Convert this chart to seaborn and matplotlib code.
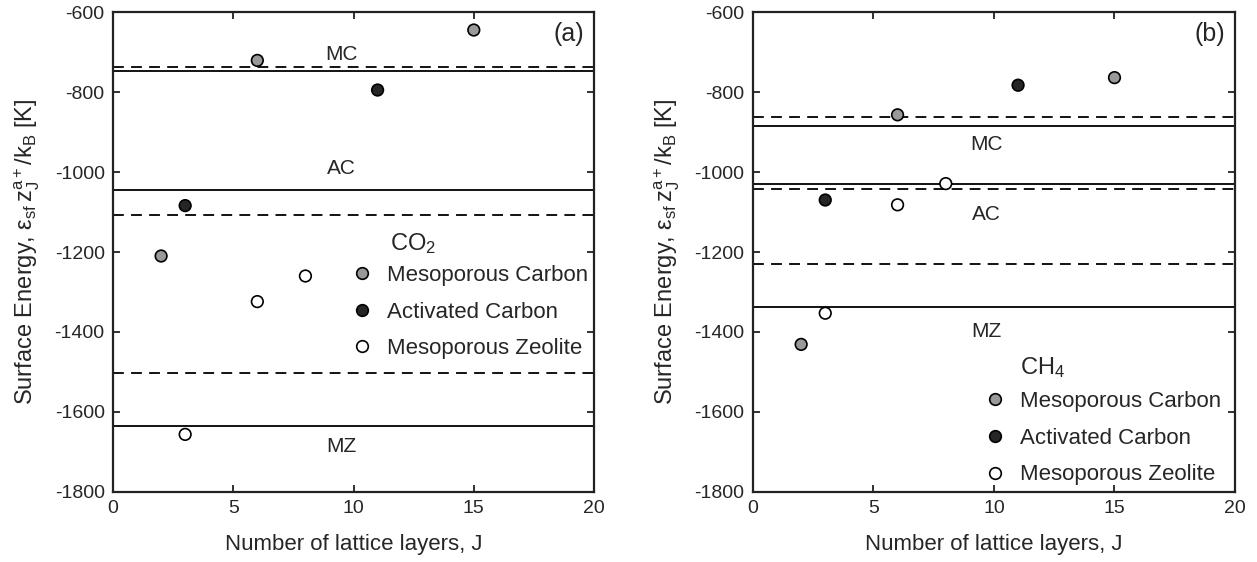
import numpy as np
import pandas as pd
import matplotlib
matplotlib.use("Agg")
import matplotlib.pyplot as plt
import seaborn as sns

# ---- data: surface energy vs number of lattice layers ----
materials = ["Mesoporous Carbon", "Activated Carbon", "Mesoporous Zeolite"]
short = ["MC", "AC", "MZ"]

# (a) CO2
co2_mc_J = [2, 6, 15]
co2_mc_E = [-1210, -721, -645]
co2_ac_J = [3, 11]
co2_ac_E = [-1084, -795]
co2_mz_J = [3, 6, 8]
co2_mz_E = [-1656, -1324, -1260]
co2_solid = [-748, -1045, -1634]    # MC, AC, MZ
co2_dashed = [-737, -1107, -1502]   # MC, AC, MZ

# (b) CH4
ch4_mc_J = [2, 6, 15]
ch4_mc_E = [-1431, -857, -764]
ch4_ac_J = [3, 11]
ch4_ac_E = [-1070, -783]
ch4_mz_J = [3, 6, 8]
ch4_mz_E = [-1353, -1082, -1029]
ch4_solid = [-884, -1029, -1337]
ch4_dashed = [-862, -1042, -1230]

x_ticks = [0, 5, 10, 15, 20]
y_ticks = [-1800, -1600, -1400, -1200, -1000, -800, -600]

sns.set_theme(style="ticks")
plt.rcParams["font.family"] = ["Liberation Sans", "DejaVu Sans"]
plt.rcParams["mathtext.fontset"] = "custom"
plt.rcParams["mathtext.rm"] = "Liberation Sans"
plt.rcParams["mathtext.it"] = "Liberation Sans"
plt.rcParams["mathtext.sf"] = "Liberation Sans"
plt.rcParams["axes.unicode_minus"] = False

palette = {materials[0]: "#999999", materials[1]: "#262626", materials[2]: "#ffffff"}


def frame(J_lists, E_lists):
    rows = []
    for m, Js, Es in zip(materials, J_lists, E_lists):
        for j, e in zip(Js, Es):
            rows.append({"J": j, "E": e, "material": m})
    return pd.DataFrame(rows)


df_a = frame([co2_mc_J, co2_ac_J, co2_mz_J], [co2_mc_E, co2_ac_E, co2_mz_E])
df_b = frame([ch4_mc_J, ch4_ac_J, ch4_mz_J], [ch4_mc_E, ch4_ac_E, ch4_mz_E])

fig = plt.figure(figsize=(12.57, 5.62), dpi=100)
ax_a = fig.add_axes([0.0899, 0.1246, 0.3827, 0.8540])
ax_b = fig.add_axes([0.5990, 0.1246, 0.3835, 0.8540])

panels = [
    (ax_a, df_a, co2_solid, co2_dashed, "(a)", "CO$_2$",
     [(9.5, -707), (9.5, -992), (9.5, -1687)], (11.5, -1180), (0.467, 0.496)),
    (ax_b, df_b, ch4_solid, ch4_dashed, "(b)", "CH$_4$",
     [(9.7, -932), (9.7, -1105), (9.7, -1400)], (11.08, -1488), (0.451, 0.233)),
]

for ax, df, solid, dashed, tag, gas, lab_pos, gas_pos, leg_anchor in panels:
    for y in solid:
        ax.axhline(y, color="black", lw=1.3, ls="-", zorder=1)
    for y in dashed:
        ax.axhline(y, color="black", lw=1.3, ls=(0, (6, 4)), zorder=1)

    sns.scatterplot(data=df, x="J", y="E", hue="material", hue_order=materials,
                    palette=palette, edgecolor="black", linewidth=1.2, s=70,
                    ax=ax, zorder=3, legend=True)

    for name, (x, y) in zip(short, lab_pos):
        ax.text(x, y, name, ha="center", va="center", fontsize=15)
    ax.text(gas_pos[0], gas_pos[1], gas, ha="left", va="center", fontsize=17)
    ax.text(0.98, 0.955, tag, transform=ax.transAxes, ha="right", va="center",
            fontsize=18)

    handles, labels = ax.get_legend_handles_labels()
    ax.legend(handles, labels, frameon=False, loc="upper left",
              bbox_to_anchor=leg_anchor, fontsize=16, labelspacing=0.7,
              handletextpad=0.53, borderpad=0, handlelength=1.2,
              markerscale=1.0)

    ax.set_xlim(0, 20)
    ax.set_ylim(-1800, -600)
    ax.set_xticks(x_ticks)
    ax.set_yticks(y_ticks)
    ax.tick_params(direction="in", length=5, width=1.3, top=True, right=True,
                   labelsize=14, pad=6, color="#222222")
    for sp in ax.spines.values():
        sp.set_linewidth(1.6)
        sp.set_color("#222222")
    ax.set_xlabel("Number of lattice layers, J", fontsize=16, labelpad=12)
    ax.set_ylabel(r"Surface Energy, $\mathregular{\epsilon_{sf}\,z_J^{a+}/k_B}$ [K]",
                  fontsize=17, labelpad=9)

fig.savefig("out.png", dpi=100)
